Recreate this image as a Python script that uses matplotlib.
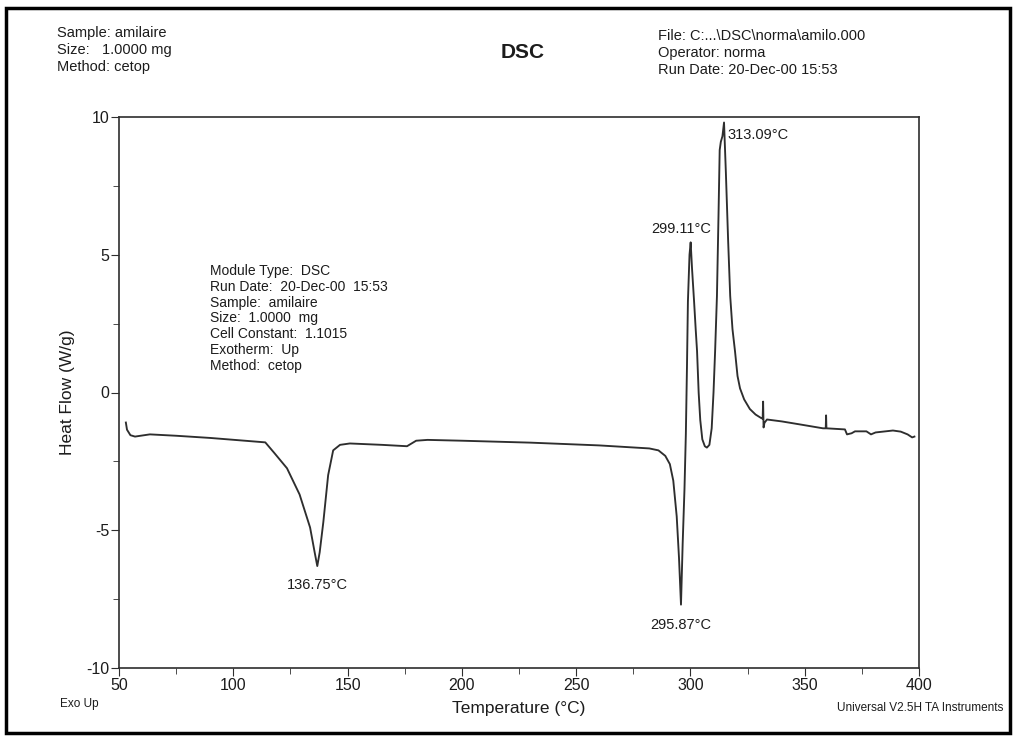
import matplotlib
matplotlib.use('Agg')
import matplotlib.pyplot as plt
from matplotlib.patches import Rectangle
from matplotlib.ticker import MultipleLocator

plt.rcParams['font.family'] = ['Liberation Sans', 'DejaVu Sans']
plt.rcParams['axes.unicode_minus'] = False

# DSC trace
temp = [53, 53.5, 55, 57, 63.5, 75, 90, 105, 114, 118, 123.5, 129, 133.6, 135.6,
        136.75, 137.8, 139.4, 141.5, 143.7, 146.7, 151, 165, 176, 180, 185, 200,
        230, 260, 282, 286, 289, 291, 292.5, 294, 295, 295.87, 296.6, 297.4, 298.0,
        298.5, 298.9, 299.6, 300.1, 300.7, 301.6, 302.3, 302.9, 303.6, 304.3, 305.2,
        306.3, 307.2, 308.3, 309.3, 310.1, 310.8, 311.6, 312.3, 312.8, 313.3, 314.0,
        314.7, 315.5, 316.5, 317.4, 318.4, 319.5, 320.6, 321.7, 323.5, 326, 328.5,
        331.0, 331.6, 331.8, 332.0, 332.4, 333.5, 340, 348, 358, 359.2, 359.35,
        359.5, 367.6, 368.5, 370.5, 372, 377, 379, 381, 388.6, 392, 395, 397, 398]
heat_flow = [-1.09, -1.35, -1.55, -1.6, -1.52, -1.57, -1.65, -1.75, -1.81, -2.2,
             -2.75, -3.7, -4.9, -5.8, -6.3, -5.8, -4.7, -3.0, -2.1, -1.9, -1.85,
             -1.9, -1.95, -1.75, -1.72, -1.75, -1.82, -1.92, -2.03, -2.1, -2.3, -2.6,
             -3.2, -4.5, -6.0, -7.7, -5.5, -3.5, -1.5, 1.0, 3.3, 5.0, 5.45, 4.5, 3.3,
             2.3, 1.5, 0.0, -1.0, -1.7, -1.95, -2.0, -1.9, -1.3, 0.0, 1.5, 3.5, 6.5,
             8.8, 9.1, 9.3, 9.8, 8.0, 5.5, 3.5, 2.3, 1.5, 0.6, 0.15, -0.25, -0.6,
             -0.8, -0.93, -0.95, -0.33, -1.27, -1.1, -0.98, -1.05, -1.16, -1.3, -1.3,
             -0.83, -1.3, -1.34, -1.52, -1.48, -1.41, -1.41, -1.52, -1.45, -1.38,
             -1.42, -1.52, -1.63, -1.6]

peak_labels = ['136.75°C', '295.87°C', '299.11°C', '313.09°C']
peak_pos = [(136.75, -7.0), (295.87, -8.45), (295.9, 5.95), (316.0, 9.35)]
peak_ha = ['center', 'center', 'center', 'left']

header_left = ['Sample: amilaire', 'Size:   1.0000 mg', 'Method: cetop']
header_right = ['File: C:...\\DSC\\norma\\amilo.000', 'Operator: norma',
                'Run Date: 20-Dec-00 15:53']
info_lines = ['Module Type:  DSC', 'Run Date:  20-Dec-00  15:53', 'Sample:  amilaire',
              'Size:  1.0000  mg', 'Cell Constant:  1.1015', 'Exotherm:  Up',
              'Method:  cetop']

ink = '#1c1c1c'
W, H = 1013, 737
fig = plt.figure(figsize=(W / 100, H / 100), dpi=100)
fig.patch.set_facecolor('white')

# page border of the scan
fig.patches.append(Rectangle((6 / W, 4 / H), 1004 / W, 725 / H, transform=fig.transFigure,
                             fill=False, edgecolor='black', linewidth=2.5))

ax = fig.add_axes([119 / W, 69 / H, 800 / W, 551 / H])
ax.plot(temp, heat_flow, color='#2e2e2e', linewidth=1.35)
ax.set_xlim(50, 400)
ax.set_ylim(-10, 10)
ax.xaxis.set_major_locator(MultipleLocator(50))
ax.xaxis.set_minor_locator(MultipleLocator(25))
ax.yaxis.set_major_locator(MultipleLocator(5))
ax.yaxis.set_minor_locator(MultipleLocator(2.5))
ax.tick_params(which='both', direction='out', color='#2e2e2e', labelsize=11.5,
               labelcolor=ink)
ax.tick_params(which='major', length=6)
ax.tick_params(which='minor', length=4)
ax.tick_params(axis='x', pad=1)
ax.tick_params(axis='y', pad=1)
for s in ax.spines.values():
    s.set_color('#2e2e2e')
    s.set_linewidth(1.2)
ax.set_xlabel('Temperature (°C)', fontsize=12.5, color=ink, labelpad=6)
ax.set_ylabel('Heat Flow (W/g)', fontsize=12.5, color=ink, labelpad=8)

for lab, (px, py), ha in zip(peak_labels, peak_pos, peak_ha):
    ax.text(px, py, lab, fontsize=10.5, ha=ha, va='center', color=ink)

for i, line in enumerate(info_lines):
    ax.text(210 / W, 1 - (271 + i * 15.8) / H, line, transform=fig.transFigure,
            fontsize=10, va='center', color=ink)

for i, line in enumerate(header_left):
    fig.text(57 / W, 1 - (33 + i * 17) / H, line, fontsize=10.5, va='center', color=ink)
for i, line in enumerate(header_right):
    fig.text(658 / W, 1 - (36 + i * 17) / H, line, fontsize=10.5, va='center', color=ink)
fig.text(523 / W, 1 - 52 / H, 'DSC', fontsize=15, ha='center', va='center',
         color=ink, fontweight='bold')
fig.text(60 / W, 1 - 704 / H, 'Exo Up', fontsize=8.5, va='center', color=ink)
fig.text(1003 / W, 1 - 708 / H, 'Universal V2.5H TA Instruments', fontsize=8.5,
         ha='right', va='center', color=ink)

fig.savefig('out.png', dpi=100)
